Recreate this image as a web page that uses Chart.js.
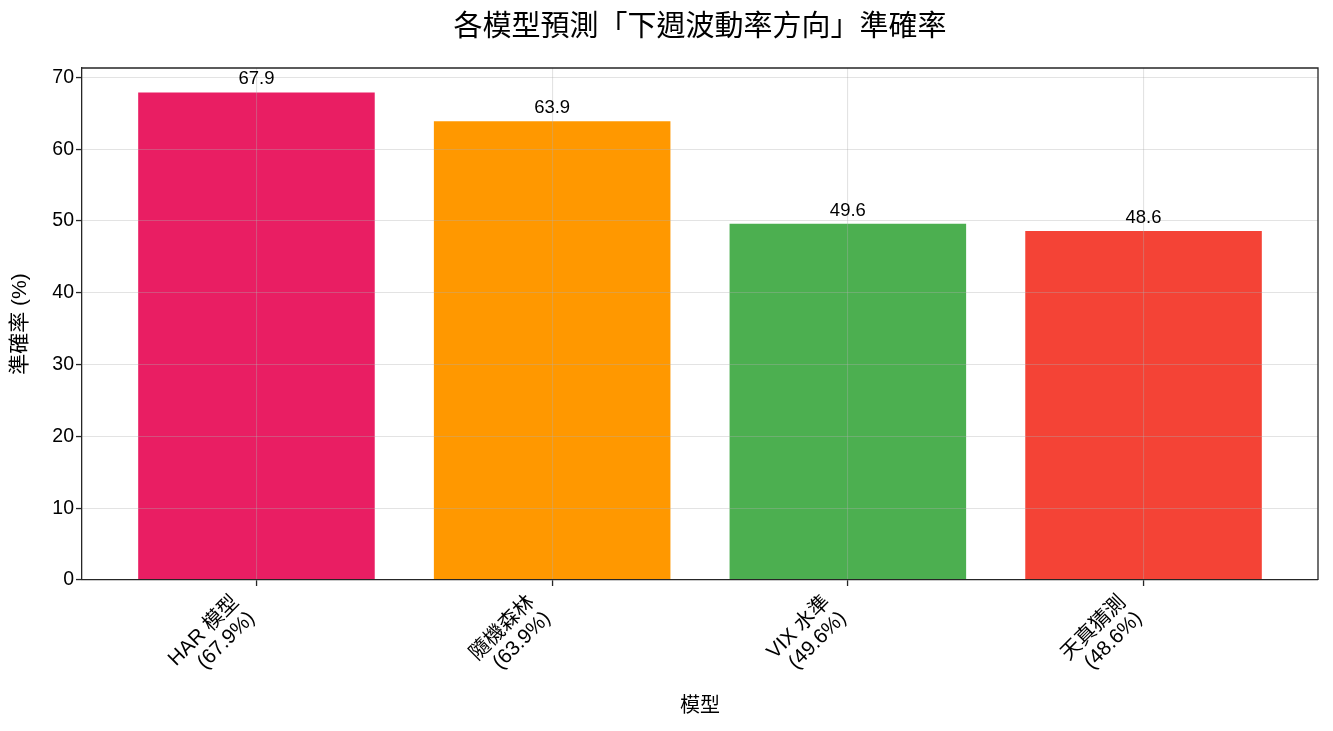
<!DOCTYPE html>
<html>
<head>
<meta charset="utf-8">
<script src="https://cdn.jsdelivr.net/npm/chart.js@4.4.0/dist/chart.umd.min.js"></script>
<style>
  html, body { margin: 0; padding: 0; background: #fff; }
  #wrap { width: 1333px; height: 731px; position: relative; }
</style>
</head>
<body>
<div id="wrap"><canvas id="chart"></canvas></div>
<script>
// data
const titleText = '各模型預測「下週波動率方向」準確率';
const models = ['HAR 模型', '隨機森林', 'VIX 水準', '天真猜測'];
const accuracy = [67.9, 63.9, 49.6, 48.6];
const barColors = ['#E91E63', '#FF9800', '#4CAF50', '#F44336'];
const yTicks = [0, 10, 20, 30, 40, 50, 60, 70];
const xTitle = '模型';
const yTitle = '準確率 (%)';

const FONT = "'Liberation Sans', 'Noto Sans CJK TC', sans-serif";
const INK = '#262626';
const GRID = 'rgba(176,176,176,0.35)';

// tick label is "name\n(xx.x%)"
const tickLines = models.map((m, i) => [m, '(' + accuracy[i].toFixed(1) + '%)']);

// title, value labels, rotated x labels, top/right spines
const extras = {
    id: 'extras',
    afterDraw(chart) {
        const { ctx, chartArea: ca, scales } = chart;
        const meta = chart.getDatasetMeta(0);
        ctx.save();

        // top + right spines
        ctx.strokeStyle = INK;
        ctx.lineWidth = 1.3;
        ctx.beginPath();
        ctx.moveTo(ca.left, ca.top);
        ctx.lineTo(ca.right, ca.top);
        ctx.lineTo(ca.right, ca.bottom);
        ctx.stroke();

        ctx.fillStyle = '#000';
        // title
        ctx.font = '29px ' + FONT;
        ctx.textAlign = 'center';
        ctx.textBaseline = 'middle';
        ctx.fillText(titleText, (ca.left + ca.right) / 2, 28);

        // value labels over bars
        ctx.font = '18.5px ' + FONT;
        ctx.textBaseline = 'alphabetic';
        meta.data.forEach((bar, i) => {
            ctx.fillText(accuracy[i].toFixed(1), bar.x, bar.y - 8);
        });

        // rotated category labels (right aligned, 45 deg)
        const fs = 20.5, lh = fs * 1.1;
        ctx.font = fs + 'px ' + FONT;
        ctx.textAlign = 'right';
        ctx.textBaseline = 'top';
        tickLines.forEach((lines, i) => {
            const px = scales.x.getPixelForValue(i);
            ctx.save();
            ctx.translate(px - 28, ca.bottom + 12);
            ctx.rotate(-Math.PI / 4);
            lines.forEach((t, j) => ctx.fillText(t, 0, j * lh));
            ctx.restore();
        });
        ctx.restore();
    }
};

new Chart(document.getElementById('chart'), {
    type: 'bar',
    data: {
        datasets: [{
            data: accuracy.map((v, i) => ({ x: i, y: v })),
            backgroundColor: barColors,
            borderWidth: 0,
            categoryPercentage: 1,
            barPercentage: 0.8
        }]
    },
    options: {
        responsive: true,
        maintainAspectRatio: false,
        animation: false,
        layout: { padding: { top: 68, right: 15, left: 0, bottom: 0 } },
        plugins: { legend: { display: false }, tooltip: { enabled: false }, title: { display: false } },
        scales: {
            x: {
                type: 'linear',
                offset: false,
                min: -0.59,
                max: 3.59,
                afterBuildTicks: axis => { axis.ticks = models.map((_, i) => ({ value: i })); },
                afterFit: s => { s.height = 151; },
                ticks: { display: false },
                grid: { offset: false, color: GRID, lineWidth: 1.1, z: 1, tickLength: 6, tickColor: INK, tickWidth: 1.3 },
                border: { color: INK, width: 1.3, z: 2 },
                title: { display: true, text: xTitle, color: '#000', font: { family: FONT, size: 20 }, padding: { bottom: 13, top: 0 } }
            },
            y: {
                min: 0,
                max: 71.3,
                afterBuildTicks: axis => { axis.ticks = yTicks.map(v => ({ value: v })); },
                afterFit: s => { s.width = 82; },
                ticks: { color: '#000', font: { family: FONT, size: 19.5 }, padding: 2 },
                grid: { color: GRID, lineWidth: 1.1, z: 1, tickLength: 6, tickColor: INK, tickWidth: 1.3 },
                border: { color: INK, width: 1.3, z: 2 },
                title: { display: true, text: yTitle, color: '#000', font: { family: FONT, size: 21 }, padding: { top: 8, bottom: 0 } }
            }
        }
    },
    plugins: [extras]
});
</script>
</body>
</html>
